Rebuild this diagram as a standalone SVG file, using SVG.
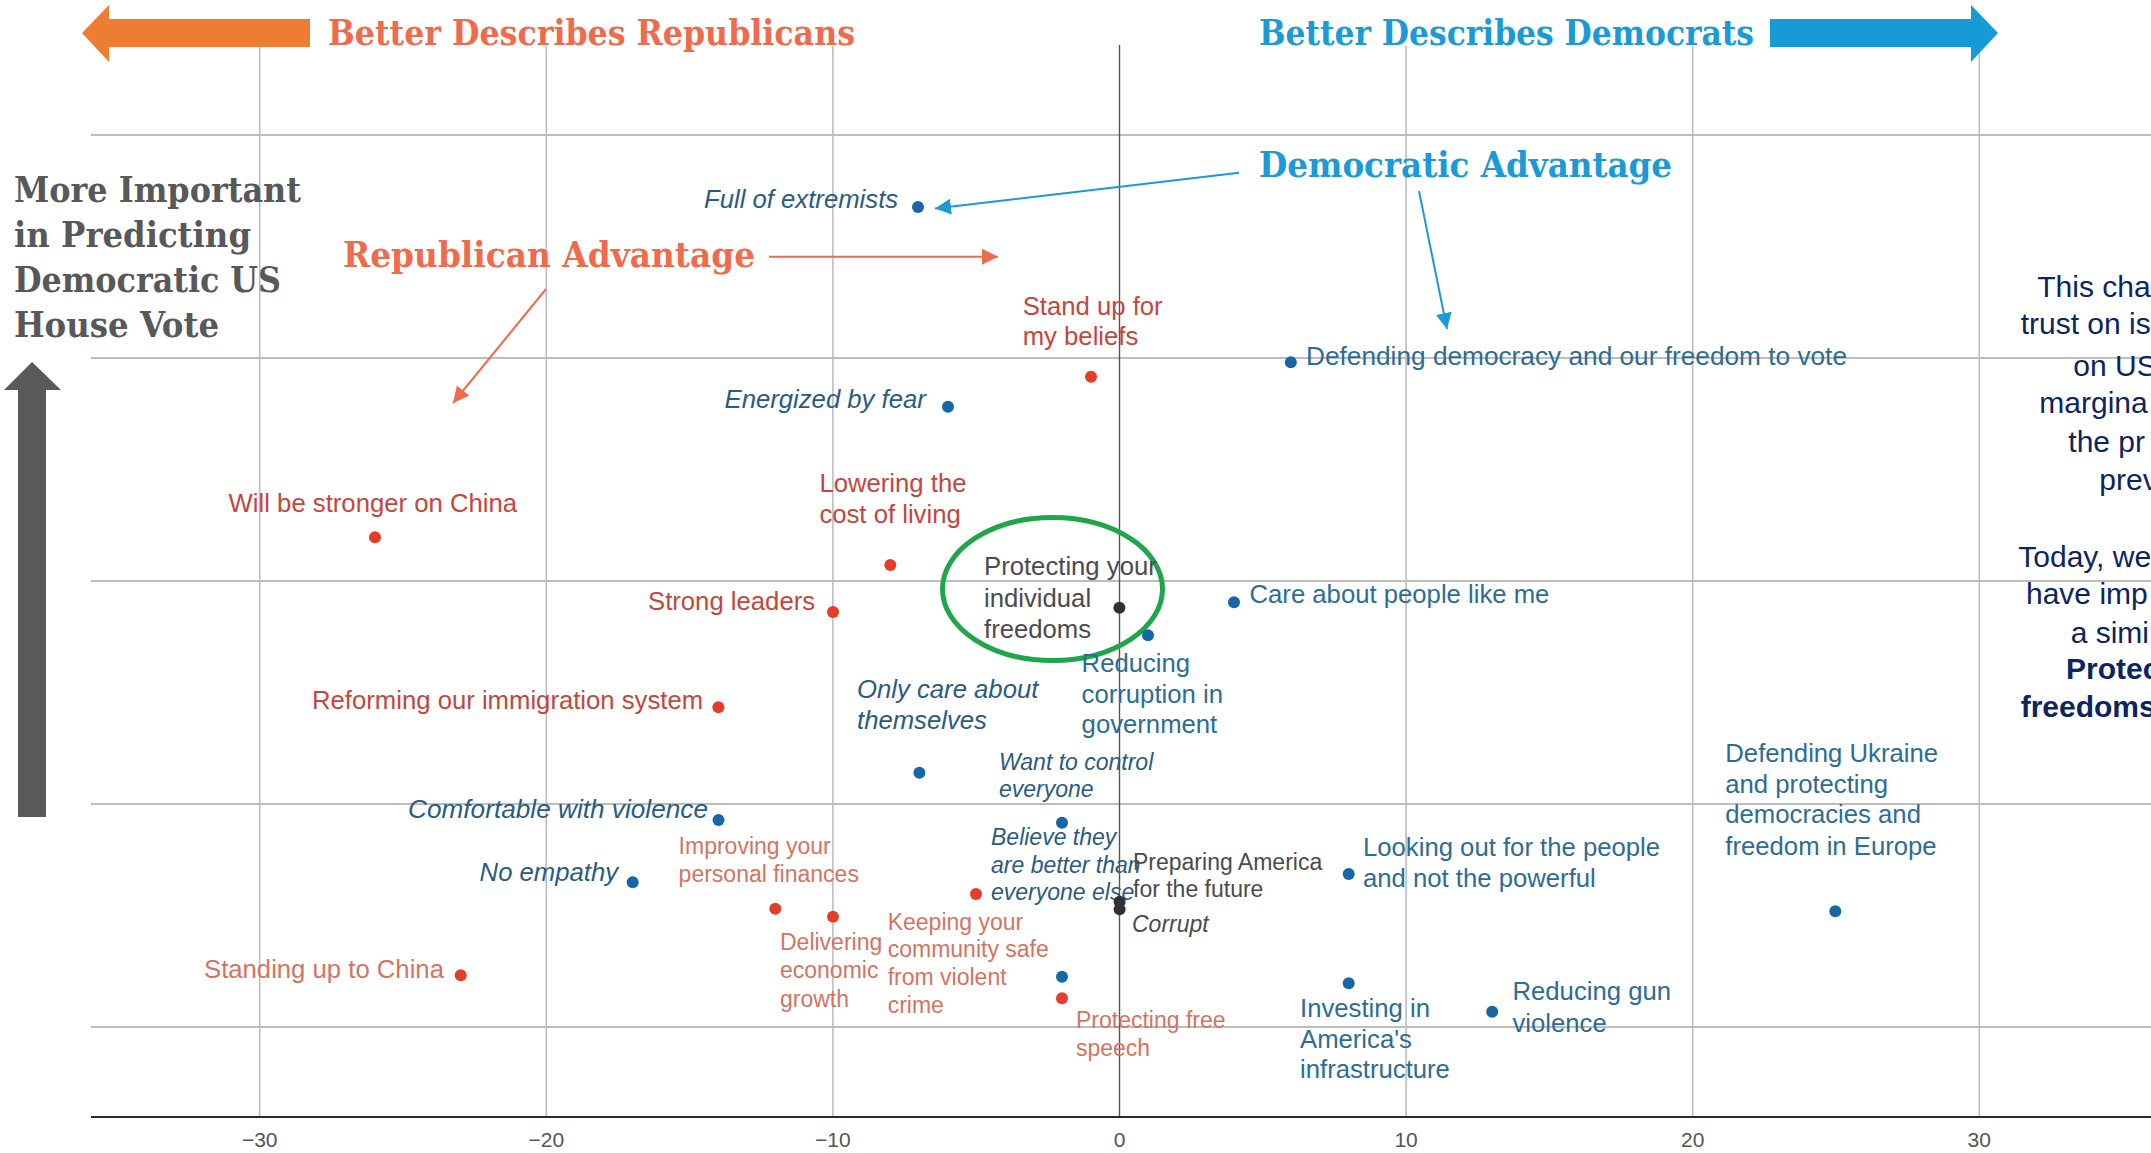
<svg xmlns="http://www.w3.org/2000/svg" width="2151" height="1153" viewBox="0 0 2151 1153">
<style>
.grid{stroke:#bdbdbd;stroke-width:2;fill:none}
.gridv{stroke:#bdbdbd;stroke-width:1.6;fill:none}
.zero{stroke:#555;stroke-width:1.4;fill:none}
.axis{stroke:#2b2b2b;stroke-width:2.2;fill:none}
.tick{font-family:"Liberation Sans",Arial,sans-serif;font-size:21px;fill:#555;text-anchor:middle}
.hd{font-family:"DejaVu Serif","Liberation Serif",serif;font-stretch:condensed;font-size:36px;font-weight:bold}
.rep{fill:#f06a4c}
.dem{fill:#1a9ad6}
.ylab{fill:#58585a}
.lab{font-family:"Liberation Sans",Arial,sans-serif;font-size:25.7px}
.sm{font-family:"Liberation Sans",Arial,sans-serif;font-size:23px}
.it{font-style:italic}
.r{fill:#c4463c}
.r2{fill:#d4745f}
.b{fill:#2d6c95}
.bi{fill:#2a5b83}
.k{fill:#4b4b4f}
.dr{fill:#e63c2a}
.db{fill:#1766a7}
.dk{fill:#303035}
.note{font-family:"Liberation Sans",Arial,sans-serif;font-size:30px;fill:#0c2462}
.nb{font-weight:bold}
.ca{stroke:#f06a4c;stroke-width:2;fill:none}
.cb{stroke:#1a9ad6;stroke-width:2;fill:none}
</style>
<defs>
<marker id="ma" markerUnits="userSpaceOnUse" markerWidth="18" markerHeight="16" refX="16" refY="8" orient="auto"><path d="M0,0 L16,8 L0,16 Z" fill="#f06a4c"/></marker>
<marker id="mb" markerUnits="userSpaceOnUse" markerWidth="18" markerHeight="16" refX="16" refY="8" orient="auto"><path d="M0,0 L16,8 L0,16 Z" fill="#1a9ad6"/></marker>
</defs>
<rect width="2151" height="1153" fill="#fff"/>

<g id="grid">
<line class="grid" x1="91" y1="135" x2="2151" y2="135"/>
<line class="grid" x1="91" y1="358" x2="2151" y2="358"/>
<line class="grid" x1="91" y1="581" x2="2151" y2="581"/>
<line class="grid" x1="91" y1="804" x2="2151" y2="804"/>
<line class="grid" x1="91" y1="1027" x2="2151" y2="1027"/>
<line class="gridv" x1="259.7" y1="46" x2="259.7" y2="1117"/>
<line class="gridv" x1="546.3" y1="46" x2="546.3" y2="1117"/>
<line class="gridv" x1="832.9" y1="46" x2="832.9" y2="1117"/>
<line class="gridv" x1="1406.1" y1="46" x2="1406.1" y2="1117"/>
<line class="gridv" x1="1692.7" y1="46" x2="1692.7" y2="1117"/>
<line class="gridv" x1="1979.3" y1="46" x2="1979.3" y2="1117"/>
<line class="zero" x1="1119.5" y1="45" x2="1119.5" y2="1117"/>
<line class="axis" x1="91" y1="1117" x2="2151" y2="1117"/>
<text class="tick" x="259.7" y="1147">−30</text>
<text class="tick" x="546.3" y="1147">−20</text>
<text class="tick" x="832.9" y="1147">−10</text>
<text class="tick" x="1119.5" y="1147">0</text>
<text class="tick" x="1406.1" y="1147">10</text>
<text class="tick" x="1692.7" y="1147">20</text>
<text class="tick" x="1979.3" y="1147">30</text>
</g>

<g id="header-republicans">
<polygon points="82,33 109,5 109,19 310,19 310,47 109,47 109,62" fill="#ed7d31"/>
<text class="hd rep" x="328" y="45" textLength="527" lengthAdjust="spacingAndGlyphs">Better Describes Republicans</text>
</g>
<g id="header-democrats">
<text class="hd dem" x="1259" y="45" textLength="495" lengthAdjust="spacingAndGlyphs">Better Describes Democrats</text>
<polygon points="1770,19 1971,19 1971,5 1998,33 1971,62 1971,47 1770,47" fill="#179bd6"/>
</g>

<g id="y-axis-label">
<text class="hd ylab" x="14" y="202" textLength="287" lengthAdjust="spacingAndGlyphs">More Important</text>
<text class="hd ylab" x="14" y="247" textLength="237" lengthAdjust="spacingAndGlyphs">in Predicting</text>
<text class="hd ylab" x="14" y="292" textLength="267" lengthAdjust="spacingAndGlyphs">Democratic US</text>
<text class="hd ylab" x="14" y="337" textLength="205" lengthAdjust="spacingAndGlyphs">House Vote</text>
<polygon points="32,362 61,390 46,390 46,817 18,817 18,390 4,390" fill="#58595b"/>
</g>

<g id="republican-advantage">
<text class="hd rep" x="343" y="267" textLength="412" lengthAdjust="spacingAndGlyphs">Republican Advantage</text>
</g>
<g id="democratic-advantage">
<text class="hd dem" x="1259" y="177" textLength="413" lengthAdjust="spacingAndGlyphs">Democratic Advantage</text>
</g>

<g id="connectors">
<line class="ca" x1="769" y1="256.7" x2="998" y2="256.7" marker-end="url(#ma)"/>
<line class="ca" x1="546" y1="289" x2="453" y2="403" marker-end="url(#ma)"/>
<line class="cb" x1="1239" y1="172.7" x2="935" y2="208.5" marker-end="url(#mb)"/>
<line class="cb" x1="1419" y1="191" x2="1447" y2="329" marker-end="url(#mb)"/>
</g>

<g id="highlight">
<ellipse cx="1052.5" cy="589" rx="110" ry="71.5" fill="none" stroke="#1fa64a" stroke-width="5"/>
</g>

<g id="n-stand-up">
<text class="lab r"><tspan x="1022.7" y="315">Stand up for</tspan><tspan x="1022.7" y="345">my beliefs</tspan></text>
<circle class="dr" cx="1091" cy="376.7" r="6"/>
</g>
<g id="n-stronger-china">
<text class="lab r" x="228.6" y="511.7">Will be stronger on China</text>
<circle class="dr" cx="375" cy="537.3" r="6"/>
</g>
<g id="n-lowering">
<text class="lab r"><tspan x="819.4" y="491.7">Lowering the</tspan><tspan x="819.4" y="522.7">cost of living</tspan></text>
<circle class="dr" cx="890.3" cy="565" r="6"/>
</g>
<g id="n-strong-leaders">
<text class="lab r" x="648" y="610">Strong leaders</text>
<circle class="dr" cx="833" cy="612" r="6"/>
</g>
<g id="n-immigration">
<text class="lab r" x="312" y="709">Reforming our immigration system</text>
<circle class="dr" cx="718.4" cy="707.3" r="6"/>
</g>
<g id="n-finances">
<text class="sm r2"><tspan x="678.6" y="854">Improving your</tspan><tspan x="678.6" y="881.7">personal finances</tspan></text>
<circle class="dr" cx="775.3" cy="908.8" r="6"/>
</g>
<g id="n-growth">
<text class="sm r2"><tspan x="780" y="950">Delivering</tspan><tspan x="780" y="978.3">economic</tspan><tspan x="780" y="1006.7">growth</tspan></text>
<circle class="dr" cx="833" cy="916.7" r="6"/>
</g>
<g id="n-community-safe">
<text class="sm r2"><tspan x="887.7" y="930">Keeping your</tspan><tspan x="887.7" y="956.7">community safe</tspan><tspan x="887.7" y="985">from violent</tspan><tspan x="887.7" y="1013.3">crime</tspan></text>
<circle class="dr" cx="976" cy="894" r="6"/>
</g>
<g id="n-free-speech">
<text class="sm r2"><tspan x="1076" y="1028.3">Protecting free</tspan><tspan x="1076" y="1056">speech</tspan></text>
<circle class="dr" cx="1062" cy="998.3" r="6"/>
</g>
<g id="n-standing-china">
<text class="lab r2" x="204" y="978.3">Standing up to China</text>
<circle class="dr" cx="460.7" cy="975.3" r="6"/>
</g>

<g id="n-defending-democracy">
<text class="lab b" x="1306" y="365" textLength="541" lengthAdjust="spacingAndGlyphs">Defending democracy and our freedom to vote</text>
<circle class="db" cx="1290.8" cy="362.3" r="6"/>
</g>
<g id="n-care-about">
<text class="lab b" x="1249.5" y="603">Care about people like me</text>
<circle class="db" cx="1234" cy="602.3" r="6"/>
</g>
<g id="n-corruption">
<text class="lab b"><tspan x="1081.6" y="671.7">Reducing</tspan><tspan x="1081.6" y="703.3">corruption in</tspan><tspan x="1081.6" y="733.3">government</tspan></text>
<circle class="db" cx="1148" cy="635.3" r="6"/>
</g>
<g id="n-ukraine">
<text class="lab b"><tspan x="1725.3" y="762">Defending Ukraine</tspan><tspan x="1725.3" y="793.3">and protecting</tspan><tspan x="1725.3" y="823.3">democracies and</tspan><tspan x="1725.3" y="855">freedom in Europe</tspan></text>
<circle class="db" cx="1835.3" cy="911.3" r="6"/>
</g>
<g id="n-looking-out">
<text class="lab b"><tspan x="1363" y="856">Looking out for the people</tspan><tspan x="1363" y="887.3">and not the powerful</tspan></text>
<circle class="db" cx="1348.7" cy="874" r="6"/>
</g>
<g id="n-infrastructure">
<text class="lab b"><tspan x="1300" y="1016.7">Investing in</tspan><tspan x="1300" y="1048.3">America's</tspan><tspan x="1300" y="1078.3">infrastructure</tspan></text>
<circle class="db" cx="1348.7" cy="983.3" r="6"/>
</g>
<g id="n-gun-violence">
<text class="lab b"><tspan x="1512.5" y="1000">Reducing gun</tspan><tspan x="1512.5" y="1031.7">violence</tspan></text>
<circle class="db" cx="1492.2" cy="1011.7" r="6"/>
</g>

<g id="n-extremists">
<text class="lab it bi" x="704" y="208">Full of extremists</text>
<circle class="db" cx="918" cy="207" r="6"/>
</g>
<g id="n-fear">
<text class="lab it bi" x="724.5" y="408">Energized by fear</text>
<circle class="db" cx="948" cy="406.7" r="6"/>
</g>
<g id="n-only-care">
<text class="lab it bi"><tspan x="857" y="698.3">Only care about</tspan><tspan x="857" y="729.3">themselves</tspan></text>
<circle class="db" cx="919.4" cy="772.7" r="6"/>
</g>
<g id="n-violence">
<text class="lab it bi" x="408" y="818.3" textLength="300" lengthAdjust="spacingAndGlyphs">Comfortable with violence</text>
<circle class="db" cx="718.5" cy="820" r="6"/>
</g>
<g id="n-empathy">
<text class="lab it bi" x="479.6" y="880.7">No empathy</text>
<circle class="db" cx="632.7" cy="882.3" r="6"/>
</g>
<g id="n-control">
<text class="sm it bi"><tspan x="999" y="770">Want to control</tspan><tspan x="999" y="796.7">everyone</tspan></text>
<circle class="db" cx="1062" cy="822.7" r="6"/>
</g>
<g id="n-better-than">
<text class="sm it bi"><tspan x="991" y="845">Believe they</tspan><tspan x="991" y="872.7">are better than</tspan><tspan x="991" y="900">everyone else</tspan></text>
<circle class="db" cx="1062" cy="976.7" r="6"/>
</g>

<g id="n-freedoms">
<text class="lab k"><tspan x="984" y="575">Protecting your</tspan><tspan x="984" y="607.3">individual</tspan><tspan x="984" y="638.3">freedoms</tspan></text>
<circle class="dk" cx="1119.4" cy="607.7" r="6"/>
</g>
<g id="n-preparing">
<text class="sm k"><tspan x="1133" y="870">Preparing America</tspan><tspan x="1133" y="896.7">for the future</tspan></text>
<circle class="dk" cx="1119.6" cy="901.7" r="6"/>
</g>
<g id="n-corrupt">
<text class="sm it k" x="1132" y="931.7">Corrupt</text>
<circle class="dk" cx="1119.6" cy="909.3" r="6"/>
</g>

<g id="side-note">
<text class="note" x="2037.3" y="297.3">This cha</text>
<text class="note" x="2020.7" y="334">trust on is</text>
<text class="note" x="2073.3" y="376">on US</text>
<text class="note" x="2039.3" y="412.7">margina</text>
<text class="note" x="2068.3" y="451.7">the pr</text>
<text class="note" x="2099.3" y="490">prev</text>
<text class="note" x="2018.3" y="566.7">Today, we</text>
<text class="note" x="2026" y="604">have imp</text>
<text class="note" x="2070.7" y="642.7">a simi</text>
<text class="note nb" x="2066" y="679.3">Protec</text>
<text class="note nb" x="2020.7" y="716.7">freedoms</text>
</g>
</svg>
